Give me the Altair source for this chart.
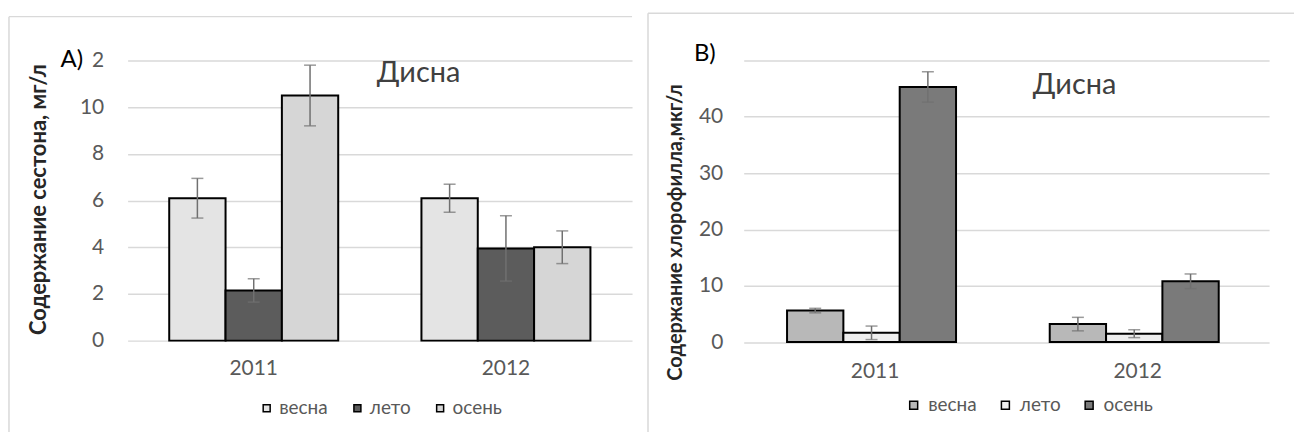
import altair as alt
import pandas as pd

years = ["2011", "2012"]
seasons = ["весна", "лето", "осень"]

# A) Содержание сестона, мг/л
seston_2011 = [6.1, 2.15, 10.5]
seston_2012 = [6.1, 3.95, 4.0]
seston_err_2011 = [0.85, 0.5, 1.3]
seston_err_2012 = [0.6, 1.4, 0.7]

# B) Содержание хлорофилла, мкг/л
chl_2011 = [5.6, 1.65, 45.3]
chl_2012 = [3.2, 1.5, 10.8]
chl_err_2011 = [0.4, 1.2, 2.7]
chl_err_2012 = [1.2, 0.7, 1.3]

seston_fills = ["#e4e4e4", "#5c5c5c", "#d6d6d6"]
chl_fills = ["#b8b8b8", "#eeeeee", "#7a7a7a"]

FONT = "Lato"


def make_df(v11, v12, e11, e12):
    rows = []
    for yr, vals, errs in ((years[0], v11, e11), (years[1], v12, e12)):
        for s, v, e in zip(seasons, vals, errs):
            rows.append({"year": yr, "season": s, "value": v, "lo": v - e, "hi": v + e})
    return pd.DataFrame(rows)


def panel(df, fills, ymax, ystep, ytitle, letter, label_expr, W, H, g):
    base = alt.Chart(df)
    xenc = alt.X(
        "year:N", sort=years,
        scale=alt.Scale(paddingInner=0.33, paddingOuter=0.165),
        axis=alt.Axis(title=None, labelAngle=0, ticks=False, domain=False, grid=False,
                      labelFontSize=21, labelColor="#595959", labelFont=FONT,
                      labelPadding=g["xpad"]),
    )
    xoff = alt.XOffset("season:N", sort=seasons,
                       scale=alt.Scale(paddingInner=0, paddingOuter=0))

    def yenc(field):
        return alt.Y(
            f"{field}:Q",
            scale=alt.Scale(domain=[0, ymax], nice=False, zero=True),
            axis=alt.Axis(
                values=list(range(0, ymax + 1, ystep)), grid=True, gridColor="#d9d9d9",
                gridWidth=1.5, ticks=False, domain=False, labelExpr=label_expr,
                labelFontSize=21, labelColor="#595959", labelFont=FONT,
                labelPadding=g["ypad"], title=ytitle, titleFontWeight="bold",
                titleFontSize=g["tfs"], titleColor="#262626", titleFont=FONT,
                titleAngle=270, titleX=g["tx"], titleY=g["ty"], titleAlign="center",
                titleBaseline="middle",
            ),
        )

    bars = base.mark_bar(stroke="black", strokeWidth=2).encode(
        x=xenc, xOffset=xoff, y=yenc("value"),
        fill=alt.Fill(
            "season:N", sort=seasons,
            scale=alt.Scale(domain=seasons, range=fills),
            legend=alt.Legend(
                orient="none", legendX=g["lx"], legendY=g["ly"], direction="horizontal",
                columns=3, title=None, symbolType="square", symbolSize=g["ss"],
                symbolStrokeColor="black", symbolStrokeWidth=1.5, labelFontSize=19,
                labelColor="#595959", labelFont=FONT, columnPadding=g["cp"],
                labelOffset=g["lo"],
            ),
        ),
    )
    err = base.mark_rule(color="#707070", strokeWidth=1.5).encode(
        x=xenc, xOffset=xoff, y=yenc("lo"), y2="hi:Q")
    cap_hi = base.mark_tick(color="#707070", size=12, thickness=1.5).encode(
        x=xenc, xOffset=xoff, y=yenc("hi"))
    cap_lo = base.mark_tick(color="#707070", size=12, thickness=1.5).encode(
        x=xenc, xOffset=xoff, y=yenc("lo"))

    one = pd.DataFrame({"t": ["Дисна"], "l": [letter]})
    t_base = alt.Chart(one)
    river = t_base.mark_text(align="left", baseline="middle", fontSize=29,
                             color="#404040", font=FONT).encode(
        x=alt.value(g["rx"]), y=alt.value(g["ry"]), text="t:N")
    let = t_base.mark_text(align="center", baseline="middle", fontSize=24,
                           color="black", font=FONT).encode(
        x=alt.value(g["ax"]), y=alt.value(g["ay"]), text="l:N")

    top = t_base.mark_rule(color="#d9d9d9", strokeWidth=1.5).encode(
        x=alt.value(g["bx"]), x2=alt.value(g["bx2"]), y=alt.value(g["by"]),
        y2=alt.value(g["by"]))
    side = t_base.mark_rule(color="#d9d9d9", strokeWidth=1.5).encode(
        x=alt.value(g["bx"]), x2=alt.value(g["bx"]), y=alt.value(g["by"]),
        y2=alt.value(g["by2"]))

    return alt.layer(top, side, bars, err, cap_hi, cap_lo, river, let).properties(
        width=W, height=H)


left = panel(
    make_df(seston_2011, seston_2012, seston_err_2011, seston_err_2012),
    seston_fills, 12, 2, "Содержание сестона, мг/л", "A)",
    "datum.value == 12 ? '2' : datum.label", 506, 281,
    dict(xpad=17, ypad=24, tx=-89, ty=139, tfs=22, lx=130, ly=339, ss=49, cp=20, lo=3,
         rx=250, ry=13, ax=-56, ay=0, bx=-119, bx2=506, by=-44, by2=377),
)
right = panel(
    make_df(chl_2011, chl_2012, chl_err_2011, chl_err_2012),
    chl_fills, 50, 10, "Содержание хлорофилла,мкг/л", "B)",
    "datum.value == 50 ? '' : datum.label", 527, 282.5,
    dict(xpad=18, ypad=21, tx=-68, ty=172, tfs=20, lx=161, ly=336, ss=64, cp=19, lo=5,
         rx=290, ry=24.5, ax=-39, ay=-6.5, bx=-96, bx2=552, by=-47.5, by2=373.5),
)

chart = alt.hconcat(left, right, spacing=14).resolve_scale(fill="independent").properties(
    padding={"left": 8, "top": 11, "right": 0, "bottom": 0}
).configure(font=FONT).configure_view(
    stroke="transparent", strokeWidth=0
).configure_axis(domain=False, ticks=False)

chart.save("out.html", embed_options={"renderer": "svg", "actions": False})
